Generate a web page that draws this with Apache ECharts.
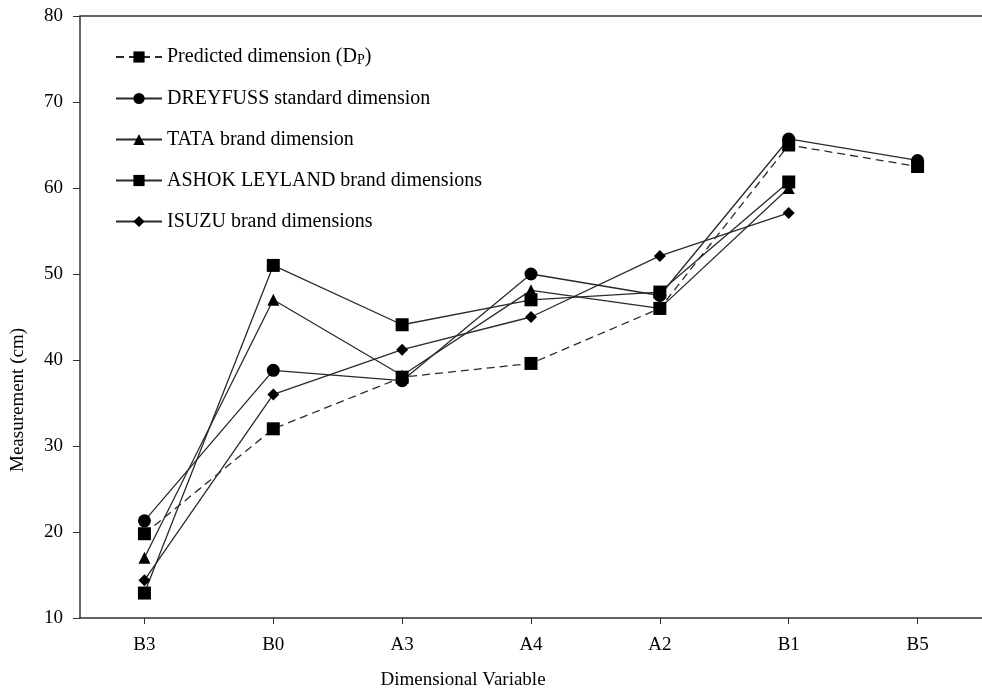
<!DOCTYPE html>
<html>
<head>
<meta charset="utf-8">
<script src="https://cdn.jsdelivr.net/npm/echarts@6/dist/echarts.min.js"></script>
<style>html,body{margin:0;padding:0;background:#fff}#c{width:982px;height:692px}</style>
</head>
<body>
<div id="c"></div>
<script>
const categories = ['B3', 'B0', 'A3', 'A4', 'A2', 'B1', 'B5'];
const predicted = [19.8, 32.0, 38.0, 39.6, 46.0, 65.0, 62.5];
const dreyfuss = [21.3, 38.8, 37.6, 50.0, 47.5, 65.7, 63.2];
const tata = [17.0, 47.0, 38.2, 48.1, 46.0, 60.0, null];
const ashok = [12.9, 51.0, 44.1, 47.0, 47.9, 60.7, null];
const isuzu = [14.4, 36.0, 41.2, 45.0, 52.1, 57.1, null];
const yTicks = { min: 10, max: 80, interval: 10 };
const names = ['Predicted dimension (DP)', 'DREYFUSS standard dimension', 'TATA brand dimension', 'ASHOK LEYLAND brand dimensions', 'ISUZU brand dimensions'];

const font = 'Liberation Serif';
const lineCol = '#2a2a2a';
function mk(name, data, symbol, size, dashed) {
  return {
    name: name, type: 'line', data: data, symbol: symbol, symbolSize: size,
    connectNulls: false,
    itemStyle: { color: '#000' },
    lineStyle: { color: lineCol, width: 1.3, type: dashed ? [8, 5] : 'solid' },
    emphasis: { disabled: true }, animation: false, z: 3
  };
}
const chart = echarts.init(document.getElementById('c'));
chart.setOption({
  animation: false,
  grid: { left: 80, right: -10, top: 16, bottom: 74, containLabel: false },
  legend: {
    orient: 'vertical', left: 110, top: 42, itemWidth: 46, itemHeight: 14, itemGap: 21,
    data: names,
    textStyle: {
      fontFamily: font, fontSize: 20, color: '#000',
      rich: {
        a: { fontFamily: font, fontSize: 20, color: '#000' },
        s: { fontFamily: font, fontSize: 14, color: '#000', padding: [7, 0, 0, 0] }
      }
    },
    formatter: function (n) {
      if (n === names[0]) return '{a|Predicted dimension (D}{s|P}{a|)}';
      return n;
    }
  },
  xAxis: [{
    type: 'category', data: categories, boundaryGap: true,
    axisLine: { show: true, lineStyle: { color: '#333', width: 1.5 } },
    axisTick: { show: true, alignWithLabel: true, length: 6, lineStyle: { color: '#333' } },
    axisLabel: { margin: 18, fontFamily: font, fontSize: 19, color: '#000' },
    splitLine: { show: false }
  }, {
    type: 'category', data: categories, position: 'top',
    axisLine: { show: true, lineStyle: { color: '#333', width: 1.5 } },
    axisTick: { show: false }, axisLabel: { show: false }, splitLine: { show: false }
  }],
  yAxis: {
    type: 'value', min: yTicks.min, max: yTicks.max, interval: yTicks.interval,
    axisLine: { show: true, lineStyle: { color: '#333', width: 1.5 } },
    axisTick: { show: true, inside: false, length: 7, lineStyle: { color: '#333' } },
    axisLabel: { margin: 17, fontFamily: font, fontSize: 19, color: '#000' },
    splitLine: { show: false }
  },
  graphic: [
    { type: 'text', x: 18, y: 400, rotation: Math.PI / 2,
      style: { text: 'Measurement (cm)', fontFamily: font, fontSize: 19, fill: '#000', align: 'center', verticalAlign: 'middle' } },
    { type: 'text', x: 463, y: 680,
      style: { text: 'Dimensional Variable', fontFamily: font, fontSize: 19, fill: '#000', align: 'center', verticalAlign: 'middle' } }
  ],
  series: [
    mk(names[0], predicted, 'rect', 13, true),
    mk(names[1], dreyfuss, 'circle', 13, false),
    mk(names[2], tata, 'triangle', 12, false),
    mk(names[3], ashok, 'rect', 13, false),
    mk(names[4], isuzu, 'diamond', 12, false)
  ]
});
</script>
</body>
</html>
